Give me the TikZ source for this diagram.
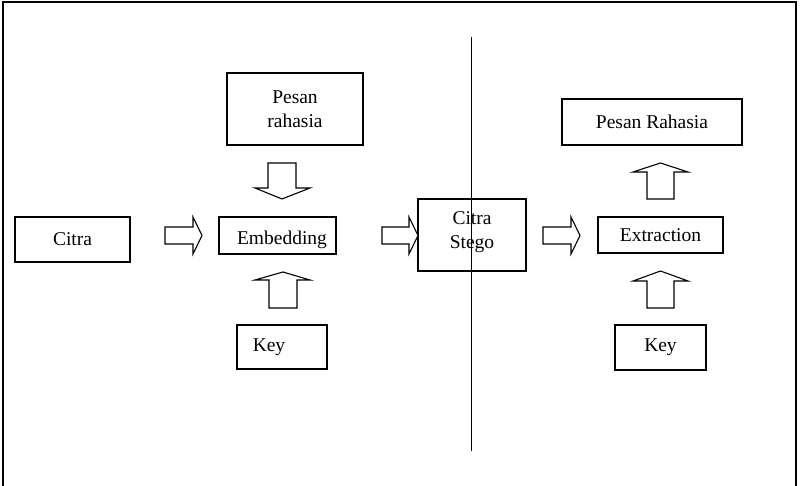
\documentclass[tikz,border=0pt]{standalone}
\usepackage{fontspec}
\setmainfont{Liberation Serif}
\begin{document}
\begin{tikzpicture}[x=1pt,y=-1pt,
  box/.style={draw,line width=1.1pt,inner sep=0pt,align=center,font=\fontsize{19.5}{24}\selectfont},
  txt/.style={inner sep=0pt,align=center,font=\fontsize{19.5}{24}\selectfont},
  blockarrow/.style={draw,line width=1.1pt,fill=white,line join=miter}]
\useasboundingbox (0,0) rectangle (804,486);
% frame
\draw[line width=1.5pt] (3,490) -- (3,2) -- (796,2) -- (796,490);
% divider
\draw[line width=1.1pt] (471.5,37) -- (471.5,451);
% boxes
\node[box,minimum width=115,minimum height=45] (citra) at (72.5,239.5) {Citra};
\node[box,minimum width=117,minimum height=37] (emb) at (277.5,235.5) {};
\node[txt,anchor=base] (embt) at (282,245) {Embedding};
\node[box,minimum width=136,minimum height=72] (pesan) at (295,109) {Pesan\\rahasia};
\node[box,minimum width=108,minimum height=72] (stego) at (472,235) {};
\node[txt] (stegot) at (472,232) {Citra\\Stego};
\node[box,minimum width=125,minimum height=36] (extr) at (660.5,235) {Extraction};
\node[box,minimum width=180,minimum height=46] (pesanr) at (652,122) {Pesan Rahasia};
\node[box,minimum width=90,minimum height=44] (key1) at (282,347) {};
\node[txt] (key1t) at (269,347) {Key};
\node[box,minimum width=91,minimum height=45] (key2) at (660.5,347.5) {Key};
% right block arrows
\draw[blockarrow] (165,227) -- (193,227) -- (193,217) -- (202,235.5) -- (193,254) -- (193,244) -- (165,244) -- cycle;
\draw[blockarrow] (382,227) -- (409,227) -- (409,217) -- (418,235.5) -- (409,254) -- (409,244) -- (382,244) -- cycle;
\draw[blockarrow] (543,227) -- (571,227) -- (571,217) -- (580,235.5) -- (571,254) -- (571,244) -- (543,244) -- cycle;
% down arrow (pesan -> embedding)
\draw[blockarrow] (268,163) -- (296,163) -- (296,188) -- (310,188) -- (282,199) -- (255,188) -- (268,188) -- cycle;
% up arrow (key -> embedding)
\draw[blockarrow] (269,308) -- (297,308) -- (297,280) -- (310,280) -- (283,272) -- (255,280) -- (269,280) -- cycle;
% up arrows right
\draw[blockarrow] (647,199) -- (674,199) -- (674,172) -- (688,172) -- (660.5,163) -- (633,172) -- (647,172) -- cycle;
\draw[blockarrow] (647,308) -- (674,308) -- (674,281) -- (688,281) -- (660.5,271) -- (633,281) -- (647,281) -- cycle;
\end{tikzpicture}
\end{document}
